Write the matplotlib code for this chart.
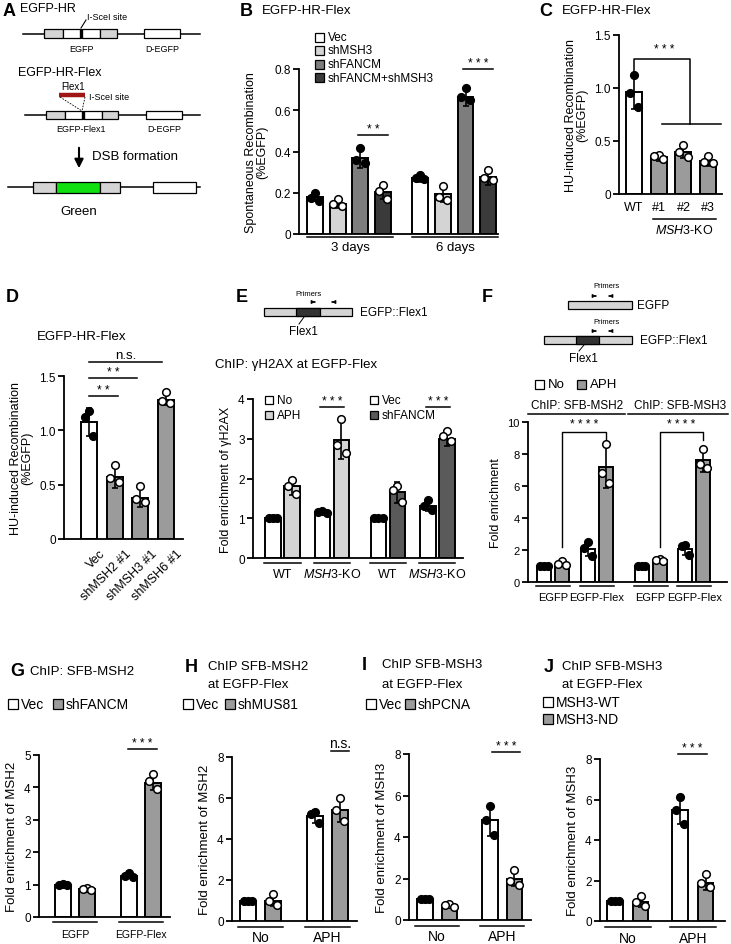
import matplotlib.pyplot as plt
from matplotlib.patches import Rectangle
import numpy as np

plt.rcParams['font.family'] = ['Liberation Sans', 'DejaVu Sans']
plt.rcParams['mathtext.fontset'] = 'custom'
plt.rcParams['mathtext.it'] = 'Liberation Sans:italic'
plt.rcParams['mathtext.rm'] = 'Liberation Sans'

W, H = 731, 945

# ---------------- data ----------------
# B: spontaneous recombination
b_series = ['Vec', 'shMSH3', 'shFANCM', 'shFANCM+shMSH3']
b_groups = ['3 days', '6 days']
b_mean = [0.18, 0.145, 0.37, 0.205, 0.27, 0.195, 0.665, 0.275]
b_sd = [0.02, 0.02, 0.05, 0.035, 0.02, 0.04, 0.045, 0.035]
b_pts = [[0.197, 0.175, 0.16], [0.17, 0.145, 0.135], [0.415, 0.36, 0.345], [0.24, 0.21, 0.17],
         [0.285, 0.27, 0.265], [0.235, 0.18, 0.165], [0.71, 0.665, 0.65], [0.31, 0.27, 0.26]]

# C: HU-induced, MSH3-KO clones
c_labels = ['WT', '#1', '#2', '#3']
c_mean = [0.96, 0.345, 0.40, 0.31]
c_sd = [0.16, 0.03, 0.06, 0.05]
c_pts = [[1.12, 0.95, 0.82], [0.37, 0.36, 0.33], [0.46, 0.40, 0.35], [0.36, 0.30, 0.29]]

# D: HU-induced, shRNA
d_labels = ['Vec', 'shMSH2 #1', 'shMSH3 #1', 'shMSH6 #1']
d_mean = [1.08, 0.57, 0.38, 1.28]
d_sd = [0.13, 0.10, 0.09, 0.05]
d_pts = [[1.18, 1.12, 0.95], [0.68, 0.56, 0.52], [0.49, 0.37, 0.34], [1.35, 1.27, 1.25]]

# E: gH2AX ChIP
e_labels = ['WT', r'$\it{MSH3}$-KO', 'WT', r'$\it{MSH3}$-KO']
e_mean = [1.0, 1.8, 1.15, 2.98, 1.0, 1.65, 1.3, 3.0]
e_sd = [0.0, 0.22, 0.02, 0.48, 0.0, 0.27, 0.13, 0.18]
e_pts = [[1, 1, 1], [1.95, 1.8, 1.62], [1.17, 1.15, 1.13], [3.5, 2.85, 2.65],
         [1, 1, 1], [1.8, 1.72, 1.4], [1.45, 1.3, 1.2], [3.2, 3.08, 2.95]]

# F: SFB-MSH2 / SFB-MSH3 ChIP
f_labels = ['EGFP', 'EGFP-Flex', 'EGFP', 'EGFP-Flex']
f_mean = [1.0, 1.15, 2.05, 7.2, 1.0, 1.35, 2.05, 7.6]
f_sd = [0.0, 0.12, 0.45, 1.3, 0.0, 0.06, 0.35, 0.7]
f_pts = [[1, 1, 1], [1.3, 1.15, 1.05], [2.5, 2.1, 1.6], [8.6, 6.8, 6.2],
         [1, 1, 1], [1.42, 1.35, 1.3], [2.3, 2.25, 1.7], [8.3, 7.4, 7.1]]

# G-J
g_labels = ['EGFP', 'EGFP-Flex']
g_mean = [1.0, 0.85, 1.28, 4.15]
g_sd = [0.02, 0.04, 0.06, 0.22]
g_pts = [[1.02, 1.0, 0.98], [0.88, 0.85, 0.82], [1.35, 1.28, 1.22], [4.4, 4.2, 3.95]]

nh_labels = ['No', 'APH']
h_mean = [1.0, 1.0, 5.1, 5.4]
h_sd = [0.0, 0.25, 0.3, 0.55]
h_pts = [[1, 1, 1], [1.3, 1.0, 0.8], [5.3, 5.2, 4.8], [6.0, 5.4, 4.9]]

i_mean = [1.0, 0.72, 4.8, 1.98]
i_sd = [0.0, 0.06, 0.75, 0.35]
i_pts = [[1, 1, 1], [0.78, 0.72, 0.65], [5.5, 4.8, 4.1], [2.4, 1.9, 1.7]]

j_mean = [1.0, 0.95, 5.5, 1.9]
j_sd = [0.0, 0.25, 0.7, 0.35]
j_pts = [[1, 1, 1], [1.25, 0.95, 0.75], [6.1, 5.5, 4.8], [2.3, 1.9, 1.7]]

# colours
WHITE = 'white'
LIGHT = '#d4d4d4'
MID = '#9b9b9b'
GRAYB = '#7d7d7d'
DARK = '#3a3a3a'
DARKE = '#5a5a5a'

fig = plt.figure(figsize=(W / 100, H / 100), dpi=100)

# overlay in pixel coords for schematics / titles / legends
ov = fig.add_axes([0, 0, 1, 1])
ov.set_xlim(0, W)
ov.set_ylim(H, 0)
ov.axis('off')


def box(l, t, r, b):
    a = fig.add_axes([l / W, 1 - b / H, (r - l) / W, (b - t) / H])
    a.patch.set_alpha(0)
    return a


def style(ax, ylim, ticks, labels, xlim, fs=8.5):
    ax.set_xlim(xlim)
    ax.set_ylim(ylim)
    for s in ['top', 'right']:
        ax.spines[s].set_visible(False)
    ax.spines['left'].set_linewidth(1.3)
    ax.spines['bottom'].set_linewidth(1.3)
    ax.set_xticks([])
    ax.set_yticks(ticks)
    ax.set_yticklabels(labels, fontsize=fs)
    ax.tick_params(axis='y', length=4, width=1.3, pad=2)


def bars(ax, pos, means, sds, pts, colors, filled, width):
    offs = np.array([0.0, -0.27, 0.27]) * width
    for x, m, e, p, c, f in zip(pos, means, sds, pts, colors, filled):
        ax.bar(x, m, width, color=c, edgecolor='black', linewidth=1.4, zorder=2)
        if e > 0:
            ax.errorbar(x, m, yerr=e, color='black', capsize=2.5, elinewidth=1.2,
                        capthick=1.2, zorder=3)
        ax.scatter(x + offs, p, s=30, facecolor='black' if f else 'white',
                   edgecolor='black', linewidth=1.1, zorder=4, clip_on=False)


def under(ax, x0, x1, dl, text=None, dt=0, fs=8.5):
    tr = ax.get_xaxis_transform()
    h = ax.get_position().height * H
    ax.plot([x0, x1], [-dl / h] * 2, color='black', lw=1.1, transform=tr, clip_on=False)
    if text:
        ax.text((x0 + x1) / 2, -dt / h, text, transform=tr, ha='center', va='center', fontsize=fs)


STARS = {'**': '* *', '***': '* * *', '****': '* * * *'}


def sig(ax, x0, x1, y, text, fs=8.5, dy=0.0):
    ax.plot([x0, x1], [y, y], color='black', lw=1.1, clip_on=False)
    ax.text((x0 + x1) / 2, y + dy, STARS.get(text, text), ha='center', va='bottom',
            fontsize=fs, clip_on=False)


def legend_sq(x, y, color, label, fs=9, size=9, gap=4):
    ov.add_patch(Rectangle((x, y - size / 2), size, size, facecolor=color, edgecolor='black', lw=0.9))
    ov.text(x + size + gap, y, label, fontsize=fs, va='center', ha='left')


def title(x, y, letter, text=None, tx=None):
    ov.text(x, y, letter, fontsize=13, fontweight='bold', va='center', ha='left')
    if text:
        ov.text(tx, y, text, fontsize=9.5, va='center', ha='left')


# ---------------- A: schematic ----------------
title(3, 12, 'A')
ov.text(20, 9, 'EGFP-HR', fontsize=9, va='center')


def reporter(y, x0, x1, xd0, xd1, xs, mid=None):
    ov.plot([xs, 200], [y, y], color='black', lw=1.1)
    h = 8.5
    if mid is None:
        segs = [(x0, x0 + 19, LIGHT), (x0 + 19, x0 + 36, WHITE), (x0 + 38, x0 + 56, WHITE),
                (x0 + 56, x1, LIGHT)]
    else:
        h = 11
        segs = [(x0, x0 + 23, LIGHT), (x0 + 23, x0 + 67, '#10e010'), (x0 + 67, x1, LIGHT)]
    for a, b, c in segs:
        ov.add_patch(Rectangle((a, y - h / 2), b - a, h, facecolor=c, edgecolor='black', lw=0.9, zorder=3))
    if mid is None:
        ov.add_patch(Rectangle((x0 + 36, y - h / 2), 2, h, facecolor='black', edgecolor='black', lw=0.8, zorder=3))
    ov.add_patch(Rectangle((xd0, y - h / 2), xd1 - xd0, h, facecolor=WHITE, edgecolor='black', lw=0.9, zorder=3))


reporter(34.5, 44, 117, 144, 180, 23)
ov.text(87, 17, 'I-SceI site', fontsize=6.5, va='center')
ov.plot([86, 81], [21, 29], color='black', lw=0.8)
ov.text(81, 50, 'EGFP', fontsize=6.5, ha='center', va='center')
ov.text(162, 50, 'D-EGFP', fontsize=6.5, ha='center', va='center')

ov.text(18, 73, 'EGFP-HR-Flex', fontsize=9, va='center')
ov.text(73, 87, 'Flex1', fontsize=7, ha='center', va='center')
ov.plot([59, 85], [96, 96], color='#a01515', lw=3.2, solid_capstyle='butt')
ov.text(89, 98, 'I-SceI site', fontsize=6.5, va='center')
ov.plot([60, 82], [98, 112], color='black', lw=0.6, ls=(0, (2, 1.5)))
ov.plot([85, 82], [98, 112], color='black', lw=0.6, ls=(0, (2, 1.5)))
reporter(116, 46, 118, 146, 182, 25)
ov.text(81, 130, 'EGFP-Flex1', fontsize=6.5, ha='center', va='center')
ov.text(164, 130, 'D-EGFP', fontsize=6.5, ha='center', va='center')

ov.annotate('', xy=(79, 172), xytext=(79, 146),
            arrowprops=dict(arrowstyle='-|>', lw=1.5, color='black', mutation_scale=13))
ov.text(92, 157, 'DSB formation', fontsize=9.5, va='center')
reporter(188, 33, 120, 153, 196, 8, mid=True)
ov.text(79, 212, 'Green', fontsize=9.5, ha='center', va='center')

# ---------------- B ----------------
title(240, 11, 'B', 'EGFP-HR-Flex', 262)
axB = box(299, 70, 498, 235)
b_pos = [i + g * 4.63 for g in range(2) for i in range(4)]
style(axB, (0, 0.8), [0, 0.2, 0.4, 0.6, 0.8], ['0', '0.2', '0.4', '0.6', '0.8'], (-0.7, 8.06))
b_cols = [WHITE, LIGHT, GRAYB, DARK] * 2
bars(axB, b_pos, b_mean, b_sd, b_pts, b_cols, [True, False, True, False] * 2, 0.7)
for g in range(2):
    under(axB, b_pos[4 * g] - 0.35, b_pos[4 * g + 3] + 0.45, 3, b_groups[g], 13, 9.5)
sig(axB, b_pos[2] - 0.1, b_pos[3] + 0.2, 0.48, '**')
sig(axB, b_pos[6] - 0.1, b_pos[7] + 0.2, 0.80, '***')
axB.set_ylabel('Spontaneous Recombination\n(%EGFP)', fontsize=9, labelpad=4, linespacing=1.0)
for k, lab in enumerate(b_series):
    legend_sq(315, 38 + k * 13.5, b_cols[k], lab, fs=8.5)

# ---------------- C ----------------
title(539, 11, 'C', 'EGFP-HR-Flex', 562)
axC = box(619, 36, 722, 195)
c_pos = list(range(4))
style(axC, (0, 1.5), [0, 0.5, 1.0, 1.5], ['0', '0.5', '1.0', '1.5'], (-0.61, 3.56))
bars(axC, c_pos, c_mean, c_sd, c_pts, [WHITE, MID, MID, MID], [True, False, False, False], 0.65)
trC = axC.get_xaxis_transform()
hC = axC.get_position().height * H
for p, lab in zip(c_pos, c_labels):
    axC.text(p, -13 / hC, lab, transform=trC, ha='center', va='center', fontsize=9)
under(axC, c_pos[1] - 0.25, c_pos[3] + 0.3, 25, r'$\it{MSH3}$-KO', 36, 9)
xm = (c_pos[1] + c_pos[3]) / 2 + 0.25
axC.plot([c_pos[1] + 0.15, c_pos[3] + 0.5], [0.66, 0.66], color='black', lw=1.1, clip_on=False)
axC.plot([c_pos[0], c_pos[0], xm, xm], [1.13, 1.27, 1.27, 0.66], color='black', lw=1.1, clip_on=False)
axC.text((c_pos[0] + xm) / 2 + 0.1, 1.31, STARS['***'], ha='center', va='bottom', fontsize=8.5)
axC.set_ylabel('HU-induced Recombination\n(%EGFP)', fontsize=9, labelpad=4, linespacing=1.0)

# ---------------- D ----------------
title(6, 297, 'D')
ov.text(37, 337, 'EGFP-HR-Flex', fontsize=9.5, va='center')
axD = box(64, 377, 183, 540)
d_pos = list(range(4))
style(axD, (0, 1.5), [0, 0.5, 1.0, 1.5], ['0', '0.5', '1.0', '1.5'], (-0.97, 3.66))
bars(axD, d_pos, d_mean, d_sd, d_pts, [WHITE, MID, MID, MID], [True, False, False, False], 0.62)
trD = axD.get_xaxis_transform()
hD = axD.get_position().height * H
for p, lab in zip(d_pos, d_labels):
    axD.text(p + 0.4, -8 / hD, lab, transform=trD, ha='right', va='top', rotation=45,
             rotation_mode='anchor', fontsize=9)
sig(axD, d_pos[0], d_pos[1] + 0.13, 1.32, '**', dy=0.0)
sig(axD, d_pos[0], d_pos[2] - 0.13, 1.48, '**', dy=0.0)
sig(axD, d_pos[0], d_pos[3] - 0.16, 1.63, 'n.s.', fs=9.5, dy=0.01)
axD.set_ylabel('HU-induced Recombination\n(%EGFP)', fontsize=9, labelpad=4, linespacing=1.0)

# ---------------- E ----------------
title(236, 298, 'E')
ov.text(308, 295, 'Primers', fontsize=5.5, ha='center', va='center')
for xa, xb in [(312, 318), (335, 329)]:
    ov.annotate('', xy=(xb, 303), xytext=(xa, 303),
                arrowprops=dict(arrowstyle='-|>', lw=0.8, color='black', mutation_scale=5))
ov.add_patch(Rectangle((264, 309), 88, 8, facecolor=LIGHT, edgecolor='black', lw=0.9))
ov.add_patch(Rectangle((296, 309), 24, 8, facecolor='#333333', edgecolor='black', lw=0.9))
ov.text(360, 313, 'EGFP::Flex1', fontsize=8.5, va='center')
ov.plot([304, 299], [318, 325], color='black', lw=0.7)
ov.text(303, 332, 'Flex1', fontsize=8.5, ha='center', va='center')
ov.text(215, 365, 'ChIP: γH2AX at EGFP-Flex', fontsize=9.5, va='center')

axE = box(253, 400, 463, 559)
e_pos = []
for p in range(4):
    s = p * 2.6 + (p // 2) * 0.35
    e_pos += [s, s + 1]
style(axE, (0, 4), [0, 1, 2, 3, 4], ['0', '1', '2', '3', '4'], (-1.05, 10.0))
e_cols = [WHITE, LIGHT, WHITE, LIGHT, WHITE, DARKE, WHITE, DARKE]
bars(axE, e_pos, e_mean, e_sd, e_pts, e_cols, [True, False] * 4, 0.82)
for p in range(4):
    under(axE, e_pos[2 * p] - 0.45, e_pos[2 * p + 1] + 0.45, 5, e_labels[p], 16, 9)
sig(axE, e_pos[2] - 0.1, e_pos[3] + 0.15, 3.79, '***')
sig(axE, e_pos[6] - 0.1, e_pos[7] + 0.15, 3.79, '***')
axE.set_ylabel('Fold enrichment of γH2AX', fontsize=9, labelpad=4)
legend_sq(265, 401, WHITE, 'No', fs=8.5, size=8)
legend_sq(265, 416, LIGHT, 'APH', fs=8.5, size=8)
legend_sq(370, 401, WHITE, 'Vec', fs=8.5, size=8)
legend_sq(370, 416, DARKE, 'shFANCM', fs=8.5, size=8)

# ---------------- F ----------------
title(482, 298, 'F')
for yp, ya in [(287, 297), (323, 332)]:
    ov.text(607, yp, 'Primers', fontsize=5.5, ha='center', va='center')
    for xa, xb in [(593, 599), (612, 606)]:
        ov.annotate('', xy=(xb, ya), xytext=(xa, ya),
                    arrowprops=dict(arrowstyle='-|>', lw=0.8, color='black', mutation_scale=5))
ov.add_patch(Rectangle((568, 302), 64, 8, facecolor=LIGHT, edgecolor='black', lw=0.9))
ov.text(637, 306, 'EGFP', fontsize=8.5, va='center')
ov.add_patch(Rectangle((544, 337), 88, 8, facecolor=LIGHT, edgecolor='black', lw=0.9))
ov.add_patch(Rectangle((576, 337), 23, 8, facecolor='#333333', edgecolor='black', lw=0.9))
ov.text(640, 341, 'EGFP::Flex1', fontsize=8.5, va='center')
ov.plot([584, 579], [346, 352], color='black', lw=0.7)
ov.text(583, 359, 'Flex1', fontsize=8.5, ha='center', va='center')
legend_sq(535, 385, WHITE, 'No', fs=9.5, size=9)
legend_sq(577, 385, MID, 'APH', fs=9.5, size=9)
ov.text(577, 406, 'ChIP: SFB-MSH2', fontsize=8.5, ha='center', va='center')
ov.plot([528, 625], [415, 415], color='black', lw=1.1)
ov.text(680, 406, 'ChIP: SFB-MSH3', fontsize=8.5, ha='center', va='center')
ov.plot([628, 728], [415, 415], color='black', lw=1.1)

axF = box(528, 423, 727, 583)
f_pos = []
for p in range(4):
    s = p * 2.44 + (p // 2) * 0.56
    f_pos += [s, s + 1]
style(axF, (0, 10), [0, 2, 4, 6, 8, 10], ['0', '2', '4', '6', '8', '10'], (-0.89, 10.2), fs=8)
bars(axF, f_pos, f_mean, f_sd, f_pts, [WHITE, MID] * 4, [True, False] * 4, 0.78)
for p in range(4):
    under(axF, f_pos[2 * p] - 0.45, f_pos[2 * p + 1] + 0.45, 4, f_labels[p], 15, 8)
for k in (1, 5):
    axF.plot([f_pos[k], f_pos[k], f_pos[k + 2], f_pos[k + 2]], [2.2, 9.4, 9.4, 8.9],
             color='black', lw=1.0, clip_on=False)
    axF.text((f_pos[k] + f_pos[k + 2]) / 2, 9.5, STARS['****'], ha='center', va='bottom', fontsize=8.5)
axF.set_ylabel('Fold enrichment', fontsize=9, labelpad=4)


# ---------------- G-J ----------------
def small_panel(ax_box, xlim, ylim, ticks, means, sds, pts, step, width, labels, dl, dt, lfs, ylabel):
    ax = box(*ax_box)
    pos = [0, 1, step, step + 1]
    style(ax, ylim, ticks, [str(t) for t in ticks], xlim, fs=8.5)
    bars(ax, pos, means, sds, pts, [WHITE, MID] * 2, [True, False] * 2, width)
    for p in range(2):
        under(ax, pos[2 * p] - 0.4, pos[2 * p + 1] + 0.4, dl, labels[p], dt, lfs)
    ax.set_ylabel(ylabel, fontsize=9.5, labelpad=4)
    return ax, pos


title(10, 672, 'G', 'ChIP: SFB-MSH2', 30)
legend_sq(8, 705, WHITE, 'Vec', fs=10, size=10, gap=3)
legend_sq(53, 705, MID, 'shFANCM', fs=10, size=10, gap=3)
axG, gp = small_panel((39, 756, 170, 918), (-1.0, 4.46), (0, 5), [0, 1, 2, 3, 4, 5],
                      g_mean, g_sd, g_pts, 2.75, 0.63, g_labels, 5, 17, 7.5, 'Fold enrichment of MSH2')
sig(axG, gp[2] - 0.05, gp[3] + 0.15, 5.2, '***')

title(185, 667, 'H', 'ChIP SFB-MSH2', 208)
ov.text(208, 685, 'at EGFP-Flex', fontsize=9.5, va='center')
legend_sq(183, 705, WHITE, 'Vec', fs=10, size=10, gap=3)
legend_sq(225, 705, MID, 'shMUS81', fs=10, size=10, gap=3)
axH, hp = small_panel((232, 758, 357, 922), (-0.64, 4.36), (0, 8), [0, 2, 4, 6, 8],
                      h_mean, h_sd, h_pts, 2.68, 0.64, nh_labels, 6, 16, 10, 'Fold enrichment of MSH2')
sig(axH, hp[3] - 0.35, hp[3] + 0.35, 8.3, 'n.s.', fs=10, dy=0.05)

title(362, 665, 'I', 'ChIP SFB-MSH3', 382)
ov.text(382, 685, 'at EGFP-Flex', fontsize=9.5, va='center')
legend_sq(366, 705, WHITE, 'Vec', fs=10, size=10, gap=3)
legend_sq(405, 705, MID, 'shPCNA', fs=10, size=10, gap=3)
axI, ip = small_panel((409, 755, 531, 921), (-0.65, 4.33), (0, 8), [0, 2, 4, 6, 8],
                      i_mean, i_sd, i_pts, 2.65, 0.63, nh_labels, 6, 16, 10, 'Fold enrichment of MSH3')
sig(axI, ip[2] + 0.1, ip[3] + 0.25, 8.1, '***')

title(544, 667, 'J', 'ChIP SFB-MSH3', 562)
ov.text(562, 685, 'at EGFP-Flex', fontsize=9.5, va='center')
legend_sq(543, 703, WHITE, 'MSH3-WT', fs=10, size=10, gap=3)
legend_sq(543, 720, MID, 'MSH3-ND', fs=10, size=10, gap=3)
axJ, jp = small_panel((600, 760, 725, 922), (-0.59, 4.31), (0, 8), [0, 2, 4, 6, 8],
                      j_mean, j_sd, j_pts, 2.55, 0.6, nh_labels, 6, 17, 10, 'Fold enrichment of MSH3')
sig(axJ, jp[2] - 0.1, jp[3] + 0.05, 8.25, '***')

fig.savefig('out.png', dpi=100)
